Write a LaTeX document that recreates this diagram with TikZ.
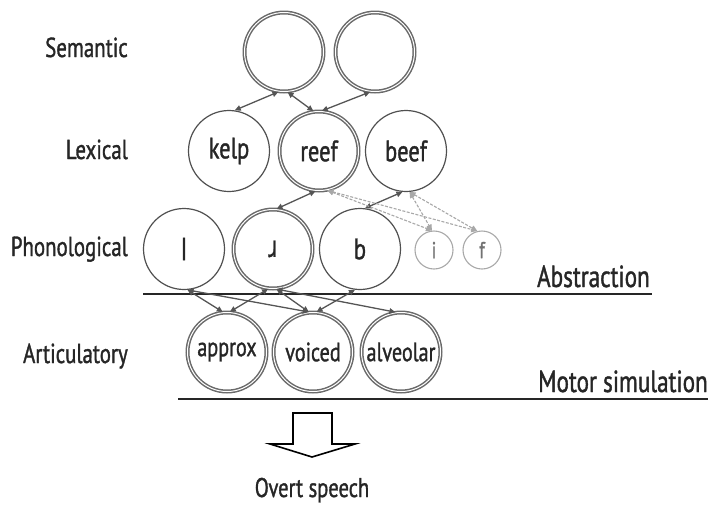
\documentclass[tikz,border=0pt]{standalone}
\usepackage{fontspec}
\setmainfont{PT Sans}[FakeStretch=0.76,FakeBold=1.2]
\newfontfamily\ipafont{DejaVu Sans}[FakeStretch=0.74,FakeBold=0.6]
\usetikzlibrary{arrows.meta}
\definecolor{ink}{HTML}{262626}
\definecolor{ring}{HTML}{505050}
\definecolor{conn}{HTML}{555555}
\definecolor{faint}{HTML}{A8A8A8}
\tikzset{
  unit/.style={circle, draw=ring, line width=1.2pt, minimum size=81pt, inner sep=0pt, text=ink, font=\fontsize{29.5}{32}\selectfont},
  dunit/.style={unit, draw=ring!85, line width=1.5pt, double=white, double distance=1pt, minimum size=79pt},
  feat/.style={dunit, font=\fontsize{26.5}{29}\selectfont},
  small/.style={circle, draw=faint, line width=1.1pt, minimum size=38pt, inner sep=0pt, text=ink!65, font=\fontsize{23}{26}\selectfont},
  lvl/.style={anchor=base east, text=ink, font=\fontsize{27.5}{30}\selectfont, inner sep=0pt},
  tag/.style={anchor=base east, text=ink, font=\fontsize{30.5}{33}\selectfont, inner sep=0pt},
  link/.style={draw=conn, line width=1.3pt, {Triangle[length=6pt,width=5.5pt]}-{Triangle[length=6pt,width=5.5pt]}},
  flink/.style={draw=faint, line width=1.1pt, dashed, dash pattern=on 3pt off 1.5pt, {Triangle[length=6pt,width=5.5pt]}-{Triangle[length=6pt,width=5.5pt]}},
  rule/.style={draw=ink, line width=2.2pt},
}
\begin{document}
\begin{tikzpicture}[x=1pt,y=-1pt]
\useasboundingbox (0,0) rectangle (712,504);
% level labels
\node[lvl] (lsem) at (128,57) {Semantic};
\node[lvl] (llex) at (128,159) {Lexical};
\node[lvl] (lpho) at (128,256) {Phonological};
\node[lvl] (lart) at (128,363) {Articulatory};
% semantic
\node[dunit] (s1) at (284,52) {};
\node[dunit] (s2) at (375,52) {};
% lexical
\node[unit] (kelp) at (229,151) {kelp};
\node[dunit] (reef) at (319,151) {reef};
\node[unit] (beef) at (406,151) {beef};
% phonological
\node[unit] (pl) at (184,249) {{\ipafont l}};
\node[dunit] (pr) at (273,249) {{\ipafont ɹ}};
\node[unit] (pb) at (360,249) {b};
\node[small] (pi) at (434,250) {i};
\node[small] (pf) at (482,250) {f};
% articulatory
\node[feat] (approx) at (227,352) {approx};
\node[feat] (voiced) at (313,352) {voiced};
\node[feat] (alveolar) at (401,352) {alveolar};
% rules
\coordinate (a1) at (143,294);
\coordinate (a2) at (652,294);
\coordinate (m1) at (178,399);
\coordinate (m2) at (708,399);
\draw[rule] (a1) -- (a2);
\draw[rule] (m1) -- (m2);
\node[tag] (abs) at (650,287) {Abstraction};
\node[tag] (mot) at (708,392) {Motor simulation};
% semantic-lexical links
\draw[link] (kelp.82) -- (s1.262);
\draw[link] (s1.275) -- (reef.98);
\draw[link] (s2.263) -- (reef.86);
% lexical-phonological links
\draw[link] (reef.265) -- (pr.85);
\draw[link] (beef.265) -- (pb.83);
\draw[flink] (reef.282) -- (pi.96);
\draw[flink] (reef.282) -- (pf.104);
\draw[flink] (beef.275) -- (pi.96);
\draw[flink] (beef.275) -- (pf.104);
% phonological-articulatory links
\draw[link] (pl.275) -- (approx.96);
\draw[link] (pl.275) -- (voiced.96);
\draw[link] (pr.263) -- (approx.86);
\draw[link] (pr.275) -- (voiced.96);
\draw[link] (pr.275) -- (alveolar.98);
\draw[link] (pb.263) -- (voiced.85);
% block arrow
\draw[line width=1.6pt, draw=black, line join=miter] (293,413) -- (332,413) -- (332,444) -- (355,444) -- (312,457) -- (270,444) -- (293,444) -- cycle;
\node[anchor=base, text=ink, font=\fontsize{27}{30}\selectfont, inner sep=0pt] (overt) at (312,497) {Overt speech};
\end{tikzpicture}
\end{document}
